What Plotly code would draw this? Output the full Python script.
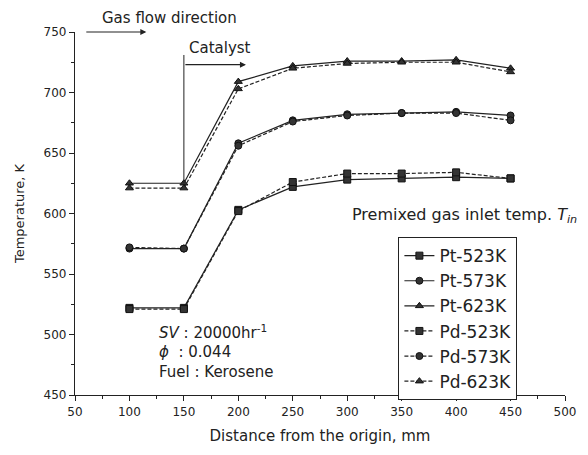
import plotly.graph_objects as go

distance = [100, 150, 200, 250, 300, 350, 400, 450]
pt_523 = [522, 522, 603, 622, 628, 629, 630, 629]
pt_573 = [571, 571, 658, 677, 682, 683, 684, 681]
pt_623 = [625, 625, 709, 722, 726, 726, 727, 720]
pd_523 = [521, 521, 602, 626, 633, 633, 634, 629]
pd_573 = [572, 571, 656, 676, 681, 683, 683, 677]
pd_623 = [621, 621, 703, 720, 724, 725, 725, 717]

series = [
    ("Pt-523K", pt_523, "solid", "square"),
    ("Pt-573K", pt_573, "solid", "circle"),
    ("Pt-623K", pt_623, "solid", "triangle-up"),
    ("Pd-523K", pd_523, "dash", "square"),
    ("Pd-573K", pd_573, "dash", "circle"),
    ("Pd-623K", pd_623, "dash", "triangle-up"),
]

FONT = "DejaVu Sans, Noto Sans, sans-serif"
fig = go.Figure()
for name, vals, dash, sym in series:
    fig.add_trace(go.Scatter(
        x=distance, y=vals, name=name, mode="lines+markers",
        line=dict(color="#222", width=1.2, dash="4px,2px" if dash == "dash" else "solid"),
        marker=dict(symbol=sym, size=7, color="#333", line=dict(color="#111", width=1)),
    ))

fig.update_layout(
    width=588, height=455,
    margin=dict(l=75, r=18, t=32, b=60),
    paper_bgcolor="white", plot_bgcolor="white",
    font=dict(family=FONT, size=13, color="#222"),
    showlegend=True,
    legend=dict(
        x=0.66, y=0.435, xanchor="left", yanchor="top",
        bordercolor="#222", borderwidth=1, bgcolor="white",
        font=dict(size=17, family=FONT), itemwidth=30, tracegroupgap=0,
    ),
)
fig.update_xaxes(
    range=[50, 500], dtick=50, tick0=50, showgrid=False, zeroline=False,
    showline=True, linecolor="#222", linewidth=1.2,
    ticks="outside", ticklen=5, tickcolor="#222",
    minor=dict(dtick=25, ticks="outside", ticklen=3, tickcolor="#222"),
    title=dict(text="Distance from the origin, mm", font=dict(size=15), standoff=12),
    tickfont=dict(size=12),
)
fig.update_yaxes(
    range=[450, 750], dtick=50, showgrid=False, zeroline=False,
    showline=True, linecolor="#222", linewidth=1.2,
    ticks="outside", ticklen=5, tickcolor="#222",
    minor=dict(dtick=25, ticks="outside", ticklen=3, tickcolor="#222"),
    title=dict(text="Temperature, K", font=dict(size=13), standoff=16),
    tickfont=dict(size=12),
)

# Gas flow direction arrow
fig.add_annotation(x=115.5, y=750, ax=59, ay=750, xref="x", yref="y", axref="x", ayref="y",
                   showarrow=True, arrowhead=2, arrowsize=1, arrowwidth=1.2, arrowcolor="#222", text="")
fig.add_annotation(x=0.05, y=1.038, xref="paper", yref="paper", text="Gas flow direction", showarrow=False,
                   xanchor="left", yanchor="middle", font=dict(size=15))
# Catalyst marker
fig.add_shape(type="line", x0=150, x1=150, y0=625, y1=731, xref="x", yref="y",
              line=dict(color="#222", width=1))
fig.add_annotation(x=207, y=723, ax=150, ay=723, xref="x", yref="y", axref="x", ayref="y",
                   showarrow=True, arrowhead=2, arrowsize=1, arrowwidth=1.2, arrowcolor="#222", text="")
fig.add_annotation(x=152.5, y=737, xref="x", yref="y", text="Catalyst", showarrow=False,
                   xanchor="left", yanchor="middle", font=dict(size=15))
# Legend title text
fig.add_annotation(x=302.5, y=598, xref="x", yref="y",
                   text="Premixed gas inlet temp. <i>T</i><sub><i>in</i></sub>",
                   showarrow=False, xanchor="left", yanchor="middle", font=dict(size=16))
# Conditions
cond = [("<i>SV</i> : 20000hr<sup>-1</sup>", 502), ("<i>ϕ</i>  : 0.044", 485.5), ("Fuel : Kerosene", 469)]
for txt, yv in cond:
    fig.add_annotation(x=125.5, y=yv, xref="x", yref="y", text=txt, showarrow=False,
                       xanchor="left", yanchor="middle", font=dict(size=15))

fig.write_html("out.html")
